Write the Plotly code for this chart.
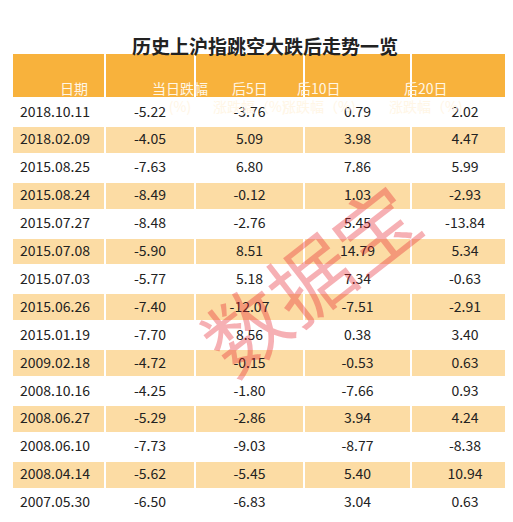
import plotly.graph_objects as go

dates = ["2018.10.11","2018.02.09","2015.08.25","2015.08.24","2015.07.27","2015.07.08","2015.07.03",
         "2015.06.26","2015.01.19","2009.02.18","2008.10.16","2008.06.27","2008.06.10","2008.04.14","2007.05.30"]
day_drop = ["-5.22","-4.05","-7.63","-8.49","-8.48","-5.90","-5.77","-7.40","-7.70","-4.72","-4.25","-5.29","-7.73","-5.62","-6.50"]
after5 = ["-3.76","5.09","6.80","-0.12","-2.76","8.51","5.18","-12.07","8.56","-0.15","-1.80","-2.86","-9.03","-5.45","-6.83"]
after10 = ["0.79","3.98","7.86","1.03","5.45","14.79","7.34","-7.51","0.38","-0.53","-7.66","3.94","-8.77","5.40","3.04"]
after20 = ["2.02","4.47","5.99","-2.93","-13.84","5.34","-0.63","-2.91","3.40","0.63","0.93","4.24","-8.38","10.94","0.63"]
headers = ["日期","当日跌幅<br>(%)","后5日<br>涨跌幅（%)","后10日<br>涨跌幅（%)","后20日<br>涨跌幅（%)"]
header_x = [50, 142, 242, 350, 457]

W, H = 513, 522
fills = ["#FFFFFF" if i % 2 == 0 else "#FCDCA4" for i in range(len(dates))]

fig = go.Figure(go.Table(
    domain=dict(x=[4/W, 511/W], y=[0, 1-45/H]),
    columnwidth=[93, 90, 109, 107, 108],
    header=dict(values=[""]*5, fill_color="#F8B23C", line_color="#FFFFFF", line_width=2, height=45),
    cells=dict(values=[dates, day_drop, after5, after10, after20],
               fill_color=[fills]*5, line_color="#FFFFFF", line_width=2,
               font=dict(color="#222222", size=14, family="Noto Sans CJK SC"),
               align=["left","center","center","center","center"], height=27.9),
))
ann = [
    dict(text="<b>历史上沪指跳空大跌后走势一览</b>", x=0.5, y=1-22/H, xref="paper", yref="paper",
         showarrow=False, font=dict(size=19, color="#222222", family="Noto Sans CJK SC")),
]
for t, xp in zip(headers, header_x):
    ann.append(dict(text=t, x=xp/W, y=1-68/H, xref="paper", yref="paper", showarrow=False,
                    font=dict(size=14, color="#FFF6E6", family="Noto Sans CJK SC")))
ann.append(dict(text="数据宝", x=300/W, y=1-268/H, xref="paper", yref="paper", showarrow=False,
                textangle=-38, opacity=0.35, font=dict(size=82, color="#E8202A", family="Noto Sans CJK SC")))
fig.update_layout(width=W, height=H, margin=dict(l=0, r=0, t=0, b=0), paper_bgcolor="white",
                  annotations=ann)
fig.write_html("out.html")
